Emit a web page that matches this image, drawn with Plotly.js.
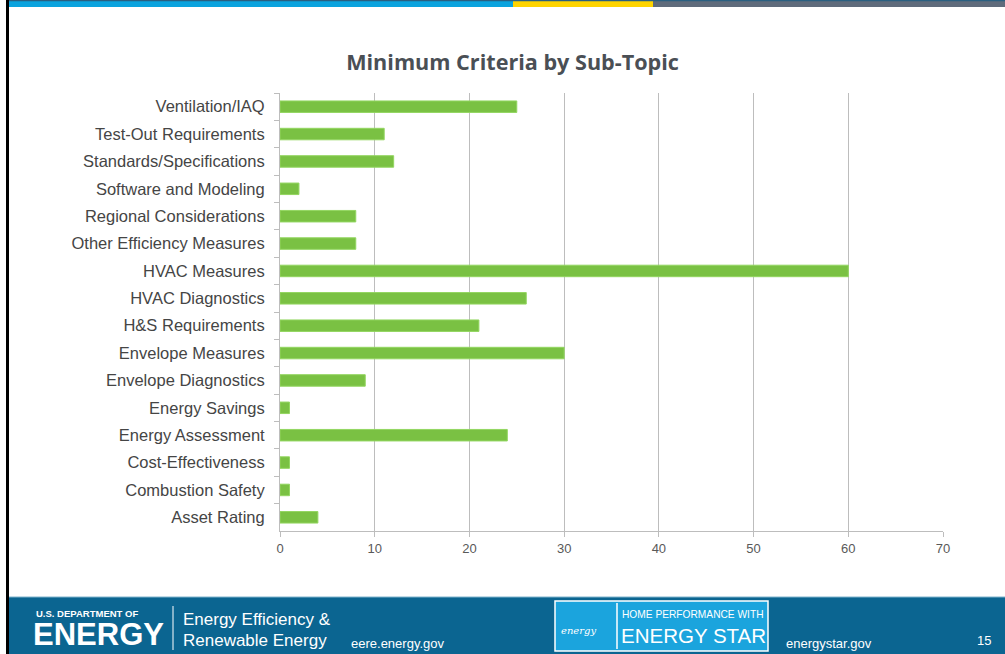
<!DOCTYPE html>
<html>
<head>
<meta charset="utf-8">
<script src="https://cdn.plot.ly/plotly-3.0.1.min.js"></script>
<style>
html,body{margin:0;padding:0;background:#fff;}
#chart{width:1005px;height:654px;}
</style>
</head>
<body>
<div id="chart"></div>
<script>
// Data (top-to-bottom as shown)
const categories = [
  "Ventilation/IAQ",
  "Test-Out Requirements",
  "Standards/Specifications",
  "Software and Modeling",
  "Regional Considerations",
  "Other Efficiency Measures",
  "HVAC Measures",
  "HVAC Diagnostics",
  "H&S Requirements",
  "Envelope Measures",
  "Envelope Diagnostics",
  "Energy Savings",
  "Energy Assessment",
  "Cost-Effectiveness",
  "Combustion Safety",
  "Asset Rating"
];
const counts = [25, 11, 12, 2, 8, 8, 60, 26, 21, 30, 9, 1, 24, 1, 1, 4];
const xTicks = [0, 10, 20, 30, 40, 50, 60, 70];

const W = 1005, H = 654;
const M = {l: 280, r: 62, t: 93, b: 123};
const PW = W - M.l - M.r, PH = H - M.t - M.b;
const px = x => (x - M.l) / PW;
const py = y => (H - M.b - y) / PH;

function rect(x0, y0, x1, y1, color, line) {
  return {type: 'rect', xref: 'paper', yref: 'paper', layer: 'above',
    x0: px(x0), x1: px(x1), y0: py(y1), y1: py(y0),
    fillcolor: color, line: line || {width: 0}};
}
function seg(x0, y0, x1, y1, color, width) {
  return {type: 'line', xref: 'paper', yref: 'paper', layer: 'above',
    x0: px(x0), x1: px(x1), y0: py(y0), y1: py(y1),
    line: {color: color, width: width}};
}
function txt(x, y, text, size, family) {
  return {xref: 'paper', yref: 'paper', x: px(x), y: py(y),
    text: text, showarrow: false, xanchor: 'left', yanchor: 'middle',
    font: {family: family || 'Liberation Sans, Arial, sans-serif', size: size, color: '#ffffff'}};
}

const shapes = [
  // top stripes
  rect(8, 0, 513, 7, '#0aa3de'),
  rect(513, 0, 653, 7, '#ffd400'),
  rect(653, 0, 1005, 7, '#5f6b7b'),
  rect(8, 0, 1005, 1.2, '#2a5f80'),
  // left border
  rect(6, 0, 9, 654, '#000000'),
  // footer
  rect(9, 597, 1005, 654, '#0b6591'),
  seg(9, 597, 1005, 597, '#7fb3cc', 1),
  seg(173, 606, 173, 650, '#ffffff', 1),
  rect(555, 601, 768, 651, '#1ba4dd', {color: '#ffffff', width: 1.5}),
  seg(617, 603, 617, 649, '#ffffff', 1.5)
];

const annotations = [
  txt(34, 613, '<b>U.S. DEPARTMENT OF</b>', 9.5),
  txt(31, 634, '<b>ENERGY</b>', 31),
  txt(181, 619, 'Energy Efficiency &amp;', 17),
  txt(181, 640, 'Renewable Energy', 17),
  txt(349, 643, 'eere.energy.gov', 13),
  txt(559, 630, '<i>energy</i>', 10, 'DejaVu Serif, serif'),
  txt(620, 614, 'HOME PERFORMANCE WITH', 10.2),
  txt(619, 635, 'ENERGY STAR', 20.5),
  txt(784, 643, 'energystar.gov', 13),
  txt(975, 640, '15', 13)
];

const trace = {
  type: 'bar',
  orientation: 'h',
  y: categories,
  x: counts,
  marker: {color: '#7ac143', line: {color: '#93d660', width: 1}},
  hoverinfo: 'x+y'
};

const layout = {
  width: W, height: H,
  margin: M,
  paper_bgcolor: '#ffffff',
  plot_bgcolor: '#ffffff',
  showlegend: false,
  bargap: 0.58,
  title: {
    text: '<b>Minimum Criteria by Sub-Topic</b>',
    x: 0.51, xanchor: 'center', y: 1 - 62 / H, yanchor: 'middle',
    font: {family: 'Open Sans, Noto Sans, sans-serif', size: 21.6, color: '#4a4f55'}
  },
  xaxis: {
    range: [0, 70],
    tickvals: xTicks,
    ticktext: xTicks.map(String),
    showgrid: true, gridcolor: '#bdbdbd', gridwidth: 1,
    zeroline: false,
    showline: true, linecolor: '#bdbdbd', linewidth: 1,
    ticks: 'outside', ticklen: 5, tickcolor: '#bdbdbd',
    tickfont: {family: 'Liberation Sans, Arial, sans-serif', size: 13, color: '#595959'},
    fixedrange: true
  },
  yaxis: {
    type: 'category',
    autorange: 'reversed',
    tickson: 'boundaries',
    ticks: 'outside', ticklen: 5, tickcolor: '#bdbdbd',
    showline: true, linecolor: '#bdbdbd', linewidth: 1,
    showgrid: false, zeroline: false,
    ticklabelstandoff: 11,
    tickfont: {family: 'Liberation Sans, Arial, sans-serif', size: 16.5, color: '#454545'},
    fixedrange: true
  },
  shapes: shapes,
  annotations: annotations
};

Plotly.newPlot('chart', [trace], layout, {displayModeBar: false, staticPlot: true});
</script>
</body>
</html>
